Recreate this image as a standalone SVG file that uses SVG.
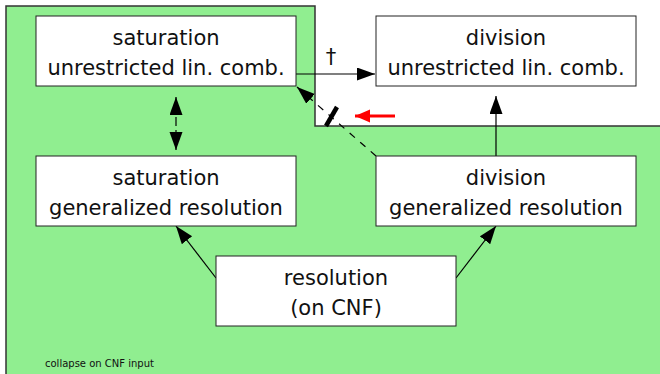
<svg xmlns="http://www.w3.org/2000/svg" width="660" height="374" viewBox="0 0 660 374">
<defs>
<style>
.box{fill:#fff;stroke:#222;stroke-width:1}
.t{font-family:"DejaVu Sans","Liberation Sans",sans-serif;font-size:21px;fill:#111;text-anchor:middle}
.c{stroke:#000;stroke-width:1.2;fill:none}
.d{stroke-dasharray:7,7}
</style>
<marker id="ah" markerUnits="userSpaceOnUse" markerWidth="18" markerHeight="14" refX="18" refY="6.5" orient="auto">
<path d="M0,0 L18,6.5 L0,13 z" fill="#000"/>
</marker>
<marker id="rh" markerUnits="userSpaceOnUse" markerWidth="16" markerHeight="14" refX="15" refY="6.5" orient="auto">
<path d="M0,0 L15,6.5 L0,13 z" fill="#f00"/>
</marker>
</defs>
<g id="region">
<polygon points="6,6 315,6 315,126 660,126 660,374 6,374" fill="#90ee90"/>
<polyline points="6,374 6,6 315,6 315,126 660,126" fill="none" stroke="#333" stroke-width="1.5"/>
<text x="45" y="367" style="font-family:'DejaVu Sans','Liberation Sans',sans-serif;font-size:10px;fill:#111">collapse on CNF input</text>
</g>
<g id="connectors">
<line class="c" x1="296" y1="74" x2="375" y2="74" marker-end="url(#ah)"/>
<text x="331" y="64" class="t" style="font-size:21px">†</text>
<line class="c d" x1="376" y1="156" x2="297" y2="87" marker-end="url(#ah)"/>
<line x1="326" y1="126" x2="337" y2="107" stroke="#000" stroke-width="4.5"/>
<line x1="395" y1="116" x2="355" y2="116" stroke="#f00" stroke-width="3" marker-end="url(#rh)"/>
<line class="c" x1="176" y1="114" x2="176" y2="97" marker-end="url(#ah)"/>
<line class="c" x1="176" y1="117" x2="176" y2="126"/>
<line class="c" x1="176" y1="130" x2="176" y2="150" marker-end="url(#ah)"/>
<line class="c" x1="496" y1="156" x2="496" y2="96" marker-end="url(#ah)"/>
<line class="c" x1="216" y1="278" x2="176" y2="226" marker-end="url(#ah)"/>
<line class="c" x1="456" y1="278" x2="496" y2="226" marker-end="url(#ah)"/>
</g>
<g id="sat-unr">
<rect class="box" x="36" y="16" width="260" height="70"/>
<text class="t" x="166" y="45">saturation</text>
<text class="t" x="166" y="75">unrestricted lin. comb.</text>
</g>
<g id="div-unr">
<rect class="box" x="376" y="16" width="260" height="70"/>
<text class="t" x="506" y="45">division</text>
<text class="t" x="506" y="75">unrestricted lin. comb.</text>
</g>
<g id="sat-gen">
<rect class="box" x="36" y="156" width="260" height="70"/>
<text class="t" x="166" y="185">saturation</text>
<text class="t" x="166" y="215">generalized resolution</text>
</g>
<g id="div-gen">
<rect class="box" x="376" y="156" width="260" height="70"/>
<text class="t" x="506" y="185">division</text>
<text class="t" x="506" y="215">generalized resolution</text>
</g>
<g id="res">
<rect class="box" x="216" y="256" width="240" height="70"/>
<text class="t" x="336" y="285">resolution</text>
<text class="t" x="336" y="315">(on CNF)</text>
</g>
</svg>
